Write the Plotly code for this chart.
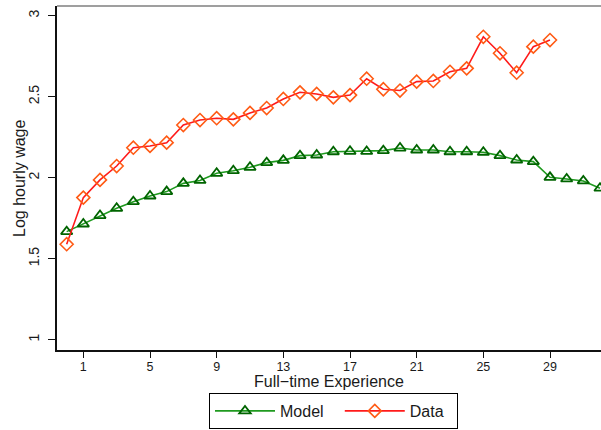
import plotly.graph_objects as go

experience_model = list(range(0, 33))
model_wage = [1.667, 1.714, 1.766, 1.811, 1.852, 1.887, 1.914, 1.965, 1.983, 2.027,
              2.043, 2.064, 2.093, 2.107, 2.136, 2.140, 2.160, 2.163, 2.162, 2.167,
              2.183, 2.171, 2.171, 2.160, 2.160, 2.157, 2.136, 2.109, 2.099, 2.002,
              1.992, 1.980, 1.935]

experience_data = list(range(0, 30))
data_wage = [1.589, 1.877, 1.986, 2.072, 2.185, 2.196, 2.216, 2.325, 2.356, 2.367,
             2.360, 2.400, 2.430, 2.486, 2.527, 2.517, 2.496, 2.510, 2.611, 2.546,
             2.538, 2.593, 2.597, 2.654, 2.675, 2.870, 2.768, 2.648, 2.809, 2.850]

x_ticks = [1, 5, 9, 13, 17, 21, 25, 29]
y_ticks = [1, 1.5, 2, 2.5, 3]
y_tick_text = ["1", "1.5", "2", "2.5", "3"]

FONT = "Liberation Sans, Arial, sans-serif"
W, H = 601, 430
ML, MR, MT, MB = 57, 0, 6, 80
PW, PH = W - ML - MR, H - MT - MB

fig = go.Figure()
fig.add_trace(go.Scatter(
    x=experience_model, y=model_wage, name="Model\u2002\u2009", mode="lines+markers",
    line=dict(color="#1f9a1f", width=1.6),
    marker=dict(symbol="triangle-up-open", size=10, color="#006400",
                line=dict(color="#006400", width=1.8)),
))
fig.add_trace(go.Scatter(
    x=experience_data, y=data_wage, name="Data\u2002", mode="lines+markers",
    line=dict(color="#ff1a1a", width=1.6),
    marker=dict(symbol="diamond-open", size=10, color="#ff5a14",
                line=dict(color="#ff5a14", width=1.6)),
))

fig.add_shape(type="line", xref="paper", yref="paper", x0=0, x1=1, y0=1, y1=1,
              line=dict(color="#7f7f7f", width=1.5))

fig.add_annotation(text="Full\u2212time Experience", xref="paper", yref="paper",
                   x=0.5, y=-(381 - (MT + PH)) / PH, xanchor="center", yanchor="middle",
                   showarrow=False, font=dict(size=16, family=FONT, color="#1a1a1a"))
fig.add_annotation(text="Log hourly wage", xref="paper", yref="paper",
                   x=-(ML - 19) / PW, y=0.5, xanchor="center", yanchor="middle",
                   textangle=-90, showarrow=False,
                   font=dict(size=16, family=FONT, color="#1a1a1a"))

fig.update_layout(
    width=W, height=H,
    margin=dict(l=ML, r=MR, t=MT, b=MB, autoexpand=False),
    paper_bgcolor="white", plot_bgcolor="white",
    font=dict(family=FONT, color="#1a1a1a"),
    showlegend=True,
    legend=dict(orientation="h", x=(333.5 - ML) / PW, xanchor="center",
                y=-(411 - (MT + PH)) / PH, yanchor="middle",
                bordercolor="black", borderwidth=1, font=dict(size=16, family=FONT),
                itemwidth=60, bgcolor="white"),
    xaxis=dict(range=[-0.58, 32.06], tickmode="array", tickvals=x_ticks,
               showgrid=False, zeroline=False, showline=True, linecolor="#111",
               linewidth=2, ticks="outside", ticklen=6, tickwidth=1, tickcolor="#111",
               tickfont=dict(size=12.5, family=FONT), automargin=False,
               ticklabelstandoff=-2),
    yaxis=dict(range=[0.936, 3.06], tickmode="array", tickvals=y_ticks, ticktext=y_tick_text,
               showgrid=False, zeroline=False, showline=True, linecolor="#111",
               linewidth=2, ticks="outside", ticklen=7, tickwidth=1, tickcolor="#111",
               tickangle=-90, tickfont=dict(size=14, family=FONT), automargin=False,
               ticklabelstandoff=3),
)

fig.write_html(
    "out.html",
    config={"displayModeBar": False},
    post_script="document.body.style.margin='0';document.body.style.overflow='hidden';",
)
